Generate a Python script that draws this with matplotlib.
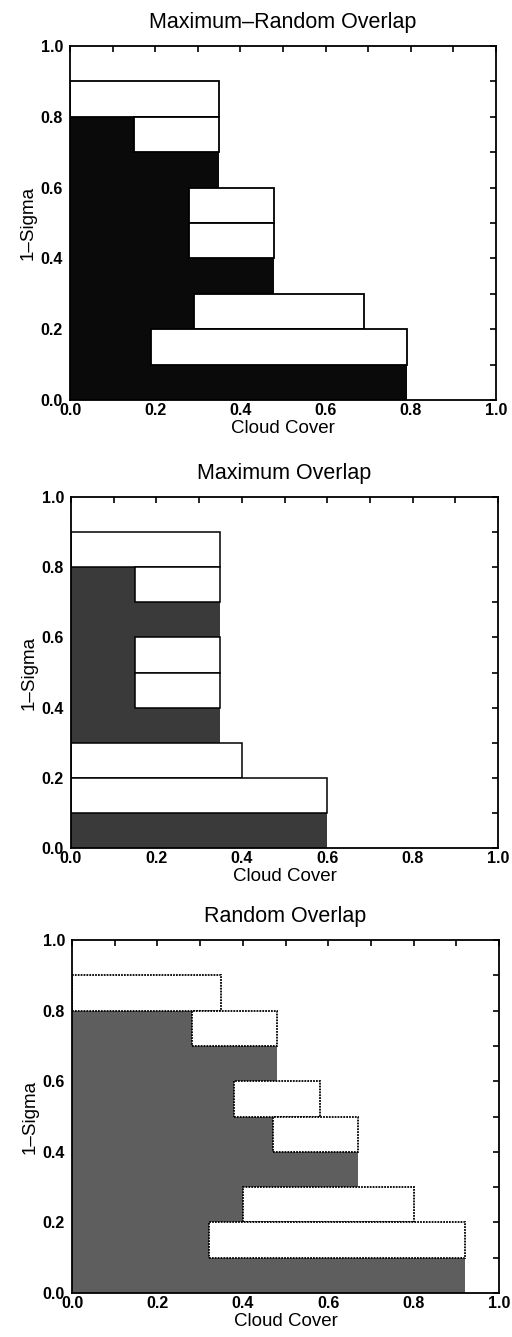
#!/usr/bin/env python3
"""Cloud overlap schematic: maximum-random, maximum and random overlap."""

import matplotlib

matplotlib.use("Agg")
import matplotlib.pyplot as plt
from matplotlib.ticker import MultipleLocator

plt.rcParams["font.family"] = ["Liberation Sans", "DejaVu Sans"]

# layer bottoms (1-sigma) of the shaded total-cover steps, 0.0 .. 0.8
cover_levels = [0.0, 0.1, 0.2, 0.3, 0.4, 0.5, 0.6, 0.7, 0.8]
# layer bottoms of the white cloud boxes
box_levels = [0.8, 0.7, 0.5, 0.4, 0.2, 0.1]

mr_cover = [0.79, 0.79, 0.69, 0.48, 0.48, 0.48, 0.35, 0.35, 0.0]
mr_left = [0.0, 0.15, 0.28, 0.28, 0.29, 0.19]
mr_right = [0.35, 0.35, 0.48, 0.48, 0.69, 0.79]

max_cover = [0.60, 0.60, 0.40, 0.35, 0.35, 0.35, 0.35, 0.35, 0.0]
max_left = [0.0, 0.15, 0.15, 0.15, 0.0, 0.0]
max_right = [0.35, 0.35, 0.35, 0.35, 0.40, 0.60]

rnd_cover = [0.92, 0.92, 0.80, 0.67, 0.67, 0.58, 0.48, 0.48, 0.0]
rnd_left = [0.0, 0.28, 0.38, 0.47, 0.40, 0.32]
rnd_right = [0.35, 0.48, 0.58, 0.67, 0.80, 0.92]

FIG_W, FIG_H = 512, 1337


def px_axes(fig, left, top, right, bottom):
    return fig.add_axes([left / FIG_W, 1 - bottom / FIG_H,
                         (right - left) / FIG_W, (bottom - top) / FIG_H])


def draw_panel(ax, title, cover, left, right, shade, edge_ls, edge_lw):
    ax.barh(cover_levels, cover, height=0.1, align="edge",
            color=shade, linewidth=0, zorder=1)
    widths = [r - l for l, r in zip(left, right)]
    ax.barh(box_levels, widths, left=left, height=0.1, align="edge",
            facecolor="white", edgecolor="black", linewidth=edge_lw,
            linestyle=edge_ls, zorder=2)

    ax.set_xlim(0, 1)
    ax.set_ylim(0, 1)
    ax.xaxis.set_major_locator(MultipleLocator(0.2))
    ax.yaxis.set_major_locator(MultipleLocator(0.2))
    ax.xaxis.set_minor_locator(MultipleLocator(0.1))
    ax.yaxis.set_minor_locator(MultipleLocator(0.1))
    ax.tick_params(which="both", direction="in", top=True, right=True,
                   bottom=False, left=False, length=4, width=1.2)
    ax.tick_params(axis="x", which="major", labelsize=11.5, pad=2.5)
    ax.tick_params(axis="y", which="major", labelsize=11.5, pad=5)
    for lab in ax.get_xticklabels() + ax.get_yticklabels():
        lab.set_fontweight("bold")
    for sp in ax.spines.values():
        sp.set_linewidth(1.3)
        sp.set_zorder(3)
    ax.set_xlabel("Cloud Cover", fontsize=13.5, labelpad=1)
    ax.set_ylabel("1\u2013Sigma", fontsize=13.5, labelpad=3)
    ax.set_title(title, fontsize=15.5, pad=13)


def main():
    fig = plt.figure(figsize=(FIG_W / 100, FIG_H / 100), dpi=100)

    ax1 = px_axes(fig, 70, 46, 496, 400)
    draw_panel(ax1, "Maximum\u2013Random Overlap", mr_cover, mr_left, mr_right,
               "#0a0a0a", "-", 1.3)

    ax2 = px_axes(fig, 71, 497, 498, 848)
    draw_panel(ax2, "Maximum Overlap", max_cover, max_left, max_right,
               "#3a3a3a", "-", 1.1)

    ax3 = px_axes(fig, 72, 940, 499, 1293)
    draw_panel(ax3, "Random Overlap", rnd_cover, rnd_left, rnd_right,
               "#5e5e5e", (0, (1, 0.6)), 1.3)

    fig.savefig("out.png", dpi=100, facecolor="white")
    plt.close(fig)


if __name__ == "__main__":
    main()
